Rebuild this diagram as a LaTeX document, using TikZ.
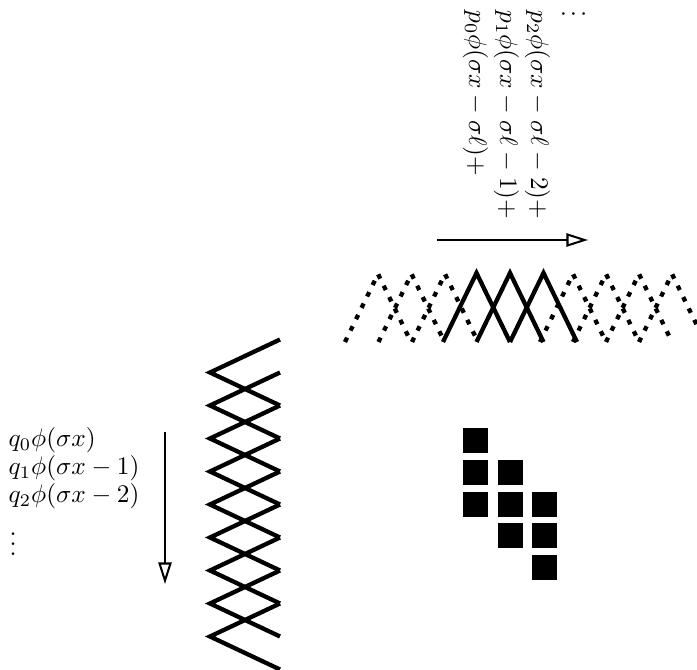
\documentclass[tikz,border=0pt]{standalone}
\usetikzlibrary{arrows.meta}
\begin{document}
\begin{tikzpicture}[x=0.395pt,y=-0.395pt,
  hat/.style={line width=1.7pt, line join=miter},
  dothat/.style={line width=1.7pt, dash pattern=on 1.9pt off 3.1pt},
  arr/.style={line width=0.8pt, -{Triangle[open,length=8.5pt,width=5.2pt]}},
  lbl/.style={anchor=base west, inner sep=0pt},
  rlbl/.style={rotate=-90, anchor=base west, inner sep=0pt},
  cell/.style={fill=black}]
\useasboundingbox (0,0) rectangle (697,670);
\clip (0,0) rectangle (697,670);
% horizontal hats: solid
\foreach \c in {476.5,510,543.5}
  \draw[hat] (\c-33.5,342) -- (\c,273) -- (\c+33.5,342);
% dotted hats, left and right
\foreach \c in {378,411.5,445}
  \draw[dothat] (\c-33,342) -- (\c,274) -- (\c+33,342);
\foreach \c in {573,606,639,672}
  \draw[dothat] (\c-33,342) -- (\c,274) -- (\c+33,342);
% vertical hats
\foreach \k in {0,...,8}
  \draw[hat] (280,339.5+33*\k) -- (210,372.5+33*\k) -- (280,405.5+33*\k);
% arrows
\coordinate (ta) at (437,240);
\coordinate (tb) at (588,240);
\draw[arr] (ta) -- (tb);
\coordinate (la) at (165,432);
\coordinate (lb) at (165,584);
\draw[arr] (la) -- (lb);
% left labels
\node[lbl] (q0) at (8,447) {$q_0\phi(\sigma x)$};
\node[lbl] (q1) at (8,475) {$q_1\phi(\sigma x-1)$};
\node[lbl] (q2) at (8,503) {$q_2\phi(\sigma x-2)$};
\node[lbl] (qd) at (9,556) {$\vdots$};
% top labels
\node[rlbl] (p0) at (469,10) {$p_0\phi(\sigma x-\sigma\ell)+$};
\node[rlbl] (p1) at (500,10) {$p_1\phi(\sigma x-\sigma\ell-1)+$};
\node[rlbl] (p2) at (531,10) {$p_2\phi(\sigma x-\sigma\ell-2)+$};
\node[rlbl] (pd) at (562,10) {$\vdots$};
% squares
\foreach \x/\y in {463/428,463/460,463/492,497.5/460,497.5/492,497.5/523.5,532/492,532/523.5,532/555}
  \fill[cell] (\x,\y) rectangle +(25,25);
\end{tikzpicture}
\end{document}
